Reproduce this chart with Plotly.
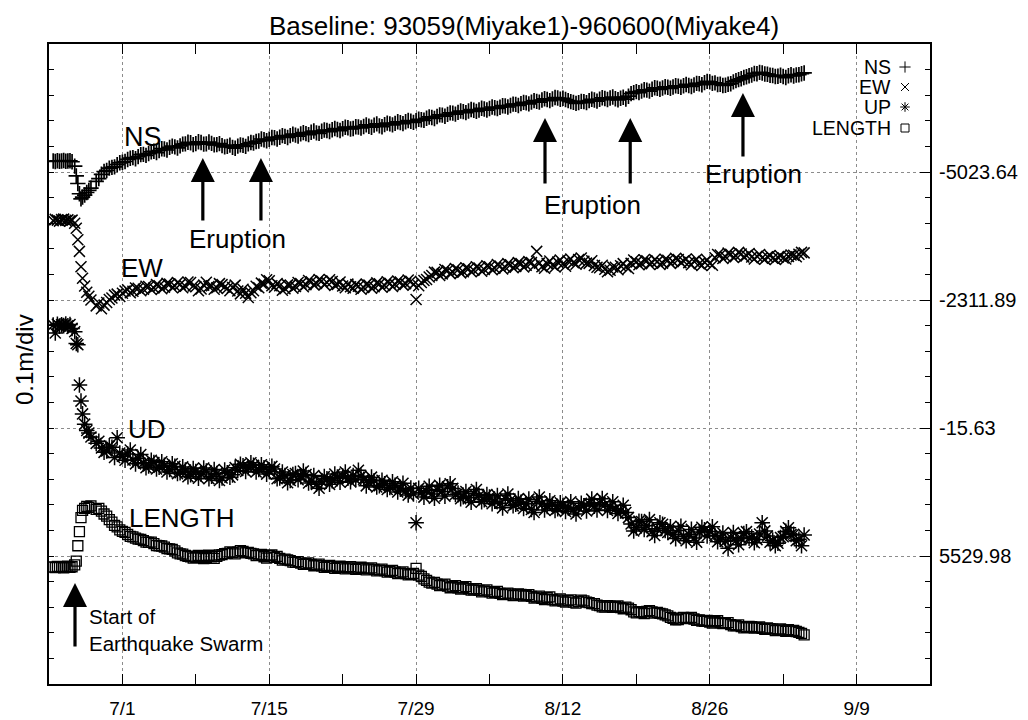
import pandas as pd
import plotly.graph_objects as go

# ---------------- data (displacement in cm relative to each reference level) ----------------
# time in days after 2000-06-24 00:00
T_PRE = [0.4, 0.6, 0.8, 1.0, 1.2, 1.4, 1.6, 1.8, 2.0, 2.2]
T_SWARM = [2.45, 2.6, 2.75, 2.9, 3.05, 3.2, 3.4, 3.6, 3.8, 4.0]
MAIN_START, MAIN_STEP = 4.5, 0.25   # 6-hourly solutions afterwards (4.5 .. 72.0 d)

NS_PRE = [4.3, 4.1, 4.4, 4.2, 4.3, 4.5, 4.2, 4.3, 4.4, 4.0]
NS_SWARM = [2.3, -1.5, -4.5, -8.5, -10.5, -9.8, -9.0, -8.0, -7.2, -6.3]
NS_MAIN = [
    -3.7, -2.6, -0.9, 0.2, 0.6, 1.5, 1.8, 2.0, 2.9, 3.6, 3.8, 4.1, 4.9, 5.4, 5.6, 5.2, 6.0, 6.8, 6.9, 6.5,
    7.2, 7.9, 8.1, 7.6, 8.4, 9.1, 9.0, 8.6, 9.6, 10.1, 9.8, 9.4, 10.2, 10.9, 11.0, 11.6, 11.4, 10.7, 11.1, 11.8,
    11.5, 10.9, 11.0, 11.7, 11.2, 10.6, 10.7, 11.1, 10.3, 9.8, 10.0, 10.5, 9.6, 9.3, 10.1, 10.6, 10.4, 10.0, 11.0, 11.5,
    11.3, 11.9, 12.1, 12.9, 12.6, 12.2, 12.8, 13.5, 13.4, 12.9, 13.6, 14.2, 13.9, 13.5, 14.2, 14.8, 14.4, 14.0, 14.9, 15.4,
    15.0, 14.6, 15.5, 16.0, 15.3, 15.1, 15.9, 16.4, 16.2, 15.8, 16.5, 17.0, 16.6, 16.2, 16.9, 17.5, 17.3, 16.8, 17.0, 17.7,
    17.6, 17.2, 17.8, 18.4, 17.9, 17.5, 18.3, 18.8, 18.0, 17.7, 18.5, 19.1, 18.8, 18.4, 19.0, 19.6, 19.3, 18.9, 19.6, 20.1,
    19.8, 19.4, 20.0, 20.6, 20.4, 20.2, 21.0, 21.5, 21.3, 20.9, 21.7, 22.3, 22.2, 21.8, 22.5, 23.1, 23.0, 22.6, 23.3, 23.8,
    23.6, 23.2, 23.8, 24.4, 24.1, 23.7, 24.2, 24.9, 24.6, 24.2, 24.8, 25.4, 25.1, 24.8, 25.3, 25.9, 25.8, 25.4, 26.0, 26.5,
    26.4, 26.0, 26.7, 27.2, 27.0, 26.6, 27.3, 27.9, 27.6, 27.3, 28.1, 28.6, 28.3, 27.9, 28.5, 29.1, 28.9, 28.4, 28.8, 28.3,
    27.9, 27.5, 27.2, 26.8, 27.1, 27.6, 27.5, 27.1, 27.9, 28.4, 28.1, 27.7, 28.4, 29.0, 28.7, 28.3, 28.9, 29.3, 28.6, 28.2,
    28.8, 29.2, 28.5, 29.6, 30.6, 31.0, 31.4, 31.0, 31.6, 32.1, 32.0, 31.6, 32.3, 32.9, 32.7, 32.3, 32.8, 33.3, 33.1, 32.7,
    33.2, 33.7, 33.5, 33.1, 33.7, 34.2, 33.8, 33.4, 34.0, 34.6, 34.5, 34.1, 34.9, 35.4, 35.2, 34.6, 34.8, 34.2, 34.3, 33.8,
    33.9, 34.3, 34.5, 35.2, 35.7, 36.1, 36.4, 36.9, 37.2, 37.6, 37.9, 38.5, 38.4, 38.9, 38.7, 38.3, 38.2, 37.8, 37.7, 37.3,
    37.4, 37.8, 37.3, 36.9, 37.6, 38.0, 37.5, 37.9, 38.0, 38.4, 38.7,
]

EW_PRE = [31.0, 31.5, 31.2, 30.8, 31.4, 31.6, 31.1, 31.3, 30.9, 31.2]
EW_SWARM = [30.0, 28.0, 23.5, 19.0, 13.0, 8.5, 5.5, 3.0, 1.5, 0.0]
EW_MAIN = [
    -2.3, -1.2, -3.4, -2.0, -1.0, 0.2, 0.8, 1.9, 2.3, 1.4, 2.6, 3.5, 4.0, 2.8, 3.4, 4.7, 4.6, 3.6, 4.2, 5.4,
    5.3, 4.1, 4.7, 6.0, 5.6, 4.4, 5.0, 6.5, 6.2, 4.9, 5.5, 6.8, 6.1, 4.8, 5.4, 7.0, 6.8, 5.5, 5.2, 3.6,
    4.3, 5.8, 6.9, 5.3, 5.6, 4.2, 4.8, 6.4, 6.0, 5.1, 4.5, 3.6, 4.9, 5.8, 3.5, 2.4, 4.2, 2.6, 1.0, 2.8,
    3.6, 5.4, 4.8, 6.6, 6.2, 7.9, 7.5, 5.6, 5.0, 6.4, 5.6, 3.8, 4.4, 5.9, 5.8, 4.6, 5.3, 6.8, 6.4, 5.2,
    6.0, 7.6, 7.1, 5.9, 6.5, 8.0, 7.4, 6.0, 6.8, 7.9, 7.2, 5.7, 6.1, 7.0, 5.5, 4.8, 6.2, 5.2, 4.6, 6.0,
    5.4, 4.2, 4.9, 6.2, 5.8, 4.6, 5.2, 6.7, 6.3, 5.0, 5.7, 7.1, 6.5, 5.3, 6.1, 7.4, 7.0, 5.8, 6.4, 7.8,
    7.3, 6.0, 0.2, 5.6, 6.8, 7.6, 8.0, 9.0, 9.6, 10.9, 10.8, 9.6, 10.2, 11.9, 11.5, 10.3, 10.9, 12.3, 11.8, 10.6,
    11.0, 12.6, 12.2, 11.0, 11.6, 13.0, 12.5, 11.2, 11.9, 13.4, 13.0, 11.8, 12.4, 13.9, 13.3, 12.1, 12.8, 14.2, 13.8, 12.6,
    13.1, 14.6, 14.2, 12.9, 13.6, 15.0, 14.6, 13.3, 19.0, 14.4, 13.0, 12.4, 14.2, 15.2, 13.7, 12.9, 14.8, 15.6, 14.1, 13.2,
    15.2, 16.0, 14.6, 14.0, 15.8, 16.4, 15.1, 14.4, 14.3, 15.3, 13.5, 12.8, 12.6, 13.6, 12.0, 11.0, 11.6, 12.9, 12.8, 11.8,
    13.4, 14.2, 13.0, 12.3, 14.3, 15.6, 14.9, 13.8, 14.2, 15.7, 15.3, 14.0, 14.6, 15.8, 15.0, 13.9, 14.4, 15.9, 15.5, 14.3,
    15.0, 16.3, 15.8, 14.6, 15.2, 16.0, 14.6, 13.8, 15.1, 15.9, 14.2, 13.5, 14.8, 15.6, 14.3, 13.6, 16.5, 17.8, 17.6, 16.2,
    16.9, 18.3, 17.9, 16.6, 17.2, 18.6, 18.0, 16.8, 17.4, 18.2, 16.8, 16.0, 17.1, 17.8, 16.5, 15.9, 16.9, 17.4, 16.3, 15.8,
    16.7, 17.2, 16.4, 16.0, 17.0, 17.6, 17.5, 16.9, 17.9, 18.6, 18.4,
]

UD_PRE = [40.2, 37.1, 40.5, 39.8, 40.3, 40.0, 40.6, 39.9, 40.4, 38.9]
UD_SWARM = [37.6, 33.0, 32.5, 16.8, 10.5, 5.5, 1.5, -1.0, -2.0, -3.5]
UD_MAIN = [
    -6.0, -5.2, -7.8, -9.5, -9.0, -7.0, -7.5, -11.5, -3.8, -9.8, -11.0, -12.6, -10.2, -8.6, -12.5, -14.0, -11.8, -10.4, -13.6, -15.5,
    -14.8, -12.6, -13.5, -16.0, -15.3, -13.2, -14.6, -17.2, -16.2, -14.0, -15.0, -17.8, -17.5, -15.2, -16.4, -19.0, -18.2, -15.8, -17.0, -19.6,
    -18.0, -15.6, -16.8, -19.8, -18.8, -16.2, -17.8, -20.5, -19.5, -16.4, -17.5, -19.2, -18.3, -15.5, -16.6, -14.2, -14.8, -17.0, -15.5, -13.6,
    -14.6, -17.2, -16.2, -14.4, -15.5, -18.0, -17.0, -15.0, -16.0, -19.8, -19.5, -17.2, -18.6, -21.4, -20.5, -18.2, -17.8, -20.2, -19.0, -16.8,
    -18.2, -21.5, -20.8, -18.6, -22.0, -23.5, -21.0, -19.0, -19.8, -22.0, -20.6, -18.0, -19.2, -21.2, -18.8, -17.2, -19.6, -21.0, -18.6, -20.2,
    -16.5, -18.8, -20.0, -22.6, -21.2, -19.2, -20.6, -23.0, -22.5, -20.4, -21.8, -24.0, -23.2, -21.0, -22.4, -25.0, -23.8, -21.6, -24.6, -26.2,
    -23.5, -25.8, -37.0, -23.6, -25.2, -27.0, -24.5, -22.8, -25.8, -27.4, -24.0, -22.4, -24.8, -26.6, -23.0, -21.8, -23.6, -26.0, -25.4, -27.6,
    -26.8, -24.8, -27.2, -29.0, -25.5, -24.0, -26.5, -28.8, -28.0, -26.0, -27.0, -29.6, -28.6, -26.4, -29.4, -31.2, -27.6, -25.8, -28.2, -30.4,
    -29.8, -27.6, -29.0, -31.4, -29.6, -27.8, -31.8, -33.0, -28.6, -27.0, -29.5, -32.0, -30.6, -28.4, -29.8, -32.2, -31.5, -29.2, -30.2, -32.6,
    -31.0, -28.8, -32.0, -33.6, -31.2, -29.4, -30.4, -32.4, -29.6, -27.8, -30.5, -32.0, -29.2, -27.6, -30.0, -32.2, -30.8, -28.8, -31.6, -33.4,
    -32.4, -30.2, -33.0, -35.0, -37.5, -40.2, -39.0, -36.4, -36.5, -39.6, -38.2, -35.8, -40.5, -42.0, -39.4, -37.0, -37.6, -40.0, -40.8, -38.6,
    -41.6, -43.2, -40.0, -38.4, -42.4, -44.0, -41.5, -39.6, -43.0, -44.6, -40.6, -38.8, -39.8, -42.2, -40.4, -38.6, -42.0, -44.4, -43.4, -41.0,
    -44.2, -47.0, -42.8, -40.8, -44.0, -45.6, -43.2, -41.2, -40.5, -43.0, -42.6, -44.8, -43.6, -41.4, -37.0, -40.2, -42.2, -44.6, -43.8, -46.0,
    -45.0, -42.8, -42.5, -40.4, -39.0, -41.6, -41.5, -44.0, -43.5, -46.0, -41.8,
]

LEN_PRE = [-4.3, -4.5, -4.1, -4.4, -4.2, -4.6, -4.3, -4.0, -4.4, -4.2]
LEN_SWARM = [-3.5, -2.0, 4.0, 9.5, 15.0, 17.8, 18.6, 19.4, 19.0, 19.6]
LEN_MAIN = [
    18.2, 18.6, 17.5, 16.4, 15.6, 14.2, 13.2, 12.0, 11.4, 10.2, 9.6, 9.2, 8.4, 7.7, 7.5, 7.0, 6.6, 6.5, 6.0, 5.4,
    5.3, 5.4, 4.8, 4.1, 4.0, 3.9, 3.5, 2.9, 2.8, 2.6, 2.0, 1.2, 0.8, 0.7, 0.2, -0.1, -0.3, -0.8, -0.5, 0.2,
    -0.2, -1.0, -0.6, 0.3, -0.3, -0.9, -0.1, 0.4, 0.5, 0.9, 1.0, 1.6, 1.3, 0.8, 1.5, 2.1, 1.8, 1.2, 1.4, 1.0,
    0.8, 0.2, 0.3, 0.6, -0.3, -0.8, 0.1, 0.4, -0.5, -0.2, -0.9, -1.6, -1.2, -1.5, -1.8, -2.4, -2.5, -2.2, -2.8, -3.3,
    -3.0, -2.7, -3.3, -3.8, -3.6, -3.2, -3.8, -4.4, -4.0, -3.7, -4.2, -4.8, -4.5, -4.0, -4.4, -5.0, -4.7, -4.2, -4.6, -5.2,
    -4.9, -4.4, -4.8, -5.4, -5.0, -4.6, -5.2, -5.8, -5.5, -5.1, -5.7, -6.3, -6.0, -5.6, -6.3, -6.9, -6.6, -6.2, -6.9, -7.4,
    -7.2, -6.8, -4.8, -7.5, -8.0, -8.9, -9.5, -10.2, -10.6, -10.3, -11.0, -11.6, -11.3, -11.0, -11.8, -12.4, -12.0, -11.6, -12.4, -12.9,
    -12.3, -12.0, -12.8, -13.3, -13.2, -12.8, -13.4, -14.0, -13.6, -13.2, -13.9, -14.5, -14.2, -13.8, -14.6, -15.1, -14.8, -14.5, -14.9, -15.5,
    -15.3, -14.8, -15.0, -15.7, -15.4, -15.1, -15.8, -16.4, -16.1, -15.7, -16.5, -17.0, -16.3, -16.0, -17.0, -17.5, -17.2, -16.8, -17.6, -18.0,
    -17.4, -17.1, -18.0, -18.4, -17.8, -17.2, -17.5, -18.0, -18.2, -18.6, -18.6, -19.2, -19.4, -19.9, -20.0, -19.4, -19.6, -20.1, -19.8, -19.5,
    -20.2, -20.6, -20.0, -20.4, -21.0, -21.8, -22.2, -21.7, -22.0, -22.5, -21.6, -21.3, -21.8, -22.3, -22.0, -22.4, -22.6, -23.0, -23.4, -24.0,
    -24.4, -24.9, -24.8, -24.3, -24.0, -24.5, -24.3, -24.0, -24.6, -25.1, -25.0, -25.4, -25.5, -25.2, -25.8, -26.2, -25.6, -25.3, -26.0, -26.4,
    -26.3, -26.0, -26.8, -27.3, -27.2, -26.9, -27.6, -28.1, -27.9, -27.5, -27.6, -28.2, -28.0, -27.7, -28.3, -28.7, -28.1, -28.4, -28.6, -29.1,
    -28.9, -28.5, -29.0, -29.4, -28.8, -29.2, -29.1, -29.5, -29.8, -30.2, -30.8,
]

# reference value (m) shown at each component's gridline
REF_LABELS = ["5529.98", "-15.63", "-2311.89", "-5023.64"]
REF_DIV = [5, 10, 15, 20]

ERUPTIONS = ["2000-07-08 16:00", "2000-07-14 05:00", "2000-08-10 07:00",
             "2000-08-18 10:00", "2000-08-29 04:00"]
SWARM_START = "2000-06-26 11:30"
TICK_DATES = ["2000-07-01", "2000-07-15", "2000-07-29", "2000-08-12", "2000-08-26", "2000-09-09"]

# ---------------- helpers ----------------
BASE = pd.Timestamp("2000-06-24")
FONT = "Liberation Sans, Arial, Helvetica, sans-serif"
PAGE_MARGIN = 8                 # default <body> margin of the html page
W, H = 1028 - PAGE_MARGIN, 720 - PAGE_MARGIN
# plot area in screen pixels
L, R, T, B = 49, 930, 44, 684


def px(xp):
    return (xp - L) / (R - L)


def py(yp):
    return (B - yp) / (B - T)


def times(n_main):
    d = T_PRE + T_SWARM + [MAIN_START + MAIN_STEP * i for i in range(n_main)]
    return [BASE + pd.Timedelta(days=v) for v in d]


series = [
    ("NS", 20, NS_PRE + NS_SWARM + NS_MAIN, "cross-thin", 11, 1.7),
    ("EW", 15, EW_PRE + EW_SWARM + EW_MAIN, "x-thin", 11, 1.5),
    ("UP", 10, UD_PRE + UD_SWARM + UD_MAIN, "asterisk", 13, 1.5),
    ("LENGTH", 5, LEN_PRE + LEN_SWARM + LEN_MAIN, "square-open", 10, 1.3),
]

fig = go.Figure()
for name, ref, vals, sym, size, lw in series:
    n_main = len(vals) - len(T_PRE) - len(T_SWARM)
    x = times(n_main)
    y = [ref + v / 10.0 for v in vals]   # 1 div = 0.1 m = 10 cm
    fig.add_trace(go.Scatter(
        x=x, y=y, mode="markers", name=name, showlegend=False,
        marker=dict(symbol=sym, size=size, color="black",
                    line=dict(color="black", width=lw)),
    ))

# dummy trace so the right-hand label axis is drawn
fig.add_trace(go.Scatter(x=[], y=[], yaxis="y2", showlegend=False))

# key markers of the gnuplot-style legend (auxiliary 0..1 axes)
LEG_Y = [67, 87, 107, 128]
for (name, ref, vals, sym, size, lw), ly in zip(series, LEG_Y):
    fig.add_trace(go.Scatter(
        x=[px(905)], y=[py(ly)], xaxis="x2", yaxis="y3", mode="markers",
        showlegend=False, hoverinfo="skip",
        marker=dict(symbol=sym, size=8, color="black",
                    line=dict(color="black", width=1.0)),
    ))

grid = dict(showgrid=True, gridcolor="#8c8c8c", gridwidth=1, griddash="dot")

fig.update_layout(
    width=W, height=H,
    margin=dict(l=L - PAGE_MARGIN, r=W - (R - PAGE_MARGIN), t=T - PAGE_MARGIN,
                b=H - (B - PAGE_MARGIN), pad=0, autoexpand=False),
    paper_bgcolor="white", plot_bgcolor="white",
    font=dict(family=FONT, color="black"),
    xaxis=dict(
        type="date", range=[BASE, BASE + pd.Timedelta(days=84)], automargin=False,
        tickmode="array", tickvals=TICK_DATES, tickformat="%-m/%-d",
        ticks="inside", ticklen=10, tickwidth=1.3, tickcolor="black",
        minor=dict(ticks="inside", ticklen=5, tickwidth=1, tickcolor="black",
                   dtick=7 * 86400000, tick0="2000-07-01", showgrid=False),
        showline=True, linecolor="black", linewidth=1.6, mirror="allticks",
        zeroline=False, tickfont=dict(size=19, family=FONT),
        ticklabelstandoff=6,
        **grid,
    ),
    yaxis=dict(
        range=[0, 25], automargin=False, tickmode="array", tickvals=REF_DIV,
        ticks="inside", ticklen=5, tickwidth=1.2, tickcolor="black",
        showticklabels=False,
        minor=dict(ticks="inside", ticklen=5, tickwidth=1.2, tickcolor="black",
                   dtick=1, tick0=0, showgrid=False),
        showline=True, linecolor="black", linewidth=1.6, mirror="allticks",
        zeroline=False, **grid,
    ),
    yaxis2=dict(
        range=[0, 25], overlaying="y", side="right", automargin=False,
        tickmode="array", tickvals=REF_DIV, ticktext=REF_LABELS,
        ticks="inside", ticklen=10, tickwidth=1.3, tickcolor="black",
        showgrid=False, zeroline=False, showline=False,
        tickfont=dict(size=20, family=FONT), ticklabelstandoff=8,
    ),
    xaxis2=dict(overlaying="x", range=[0, 1], visible=False, automargin=False),
    yaxis3=dict(overlaying="y", range=[0, 1], visible=False, automargin=False),
)

ann = []


def text(s, xp, yp, size, xanchor="center", angle=0, align="center"):
    ann.append(dict(text=s, x=px(xp), y=py(yp), xref="paper", yref="paper",
                    xanchor=xanchor, yanchor="middle", showarrow=False,
                    textangle=angle, align=align,
                    font=dict(size=size, family=FONT, color="black")))


text("Baseline: 93059(Miyake1)-960600(Miyake4)", 524, 26, 26)
text("0.1m/div", 24, 360, 24, angle=-90)
text("NS", 122, 137, 27, xanchor="left")
text("EW", 119, 268, 26, xanchor="left")
text("UD", 126, 429, 26, xanchor="left")
text("LENGTH", 127, 518, 26, xanchor="left")
text("Eruption", 237, 239, 26)
text("Eruption", 592, 205, 26)
text("Eruption", 753, 174, 26)
text("Start of<br>Earthquake Swarm", 87, 630, 20.5, xanchor="left", align="left")
for (name, *_), ly in zip(series, LEG_Y):
    text(name, 893, ly, 19.5, xanchor="right")

# arrows: (date, tip pixel y, tail pixel y)
arrow_spec = [(ERUPTIONS[0], 158, 222), (ERUPTIONS[1], 158, 222),
              (ERUPTIONS[2], 118, 185), (ERUPTIONS[3], 118, 185),
              (ERUPTIONS[4], 93, 158), (SWARM_START, 583, 648)]
for d, tip, tail in arrow_spec:
    ann.append(dict(text="", x=d, y=py(tip), xref="x", yref="paper",
                    ax=0, ay=tail - tip, axref="pixel", ayref="pixel",
                    showarrow=True, arrowhead=2, arrowsize=1.5, arrowwidth=3.2,
                    arrowcolor="black", standoff=0, startstandoff=0))

fig.update_layout(annotations=ann)
fig.write_html("out.html")
